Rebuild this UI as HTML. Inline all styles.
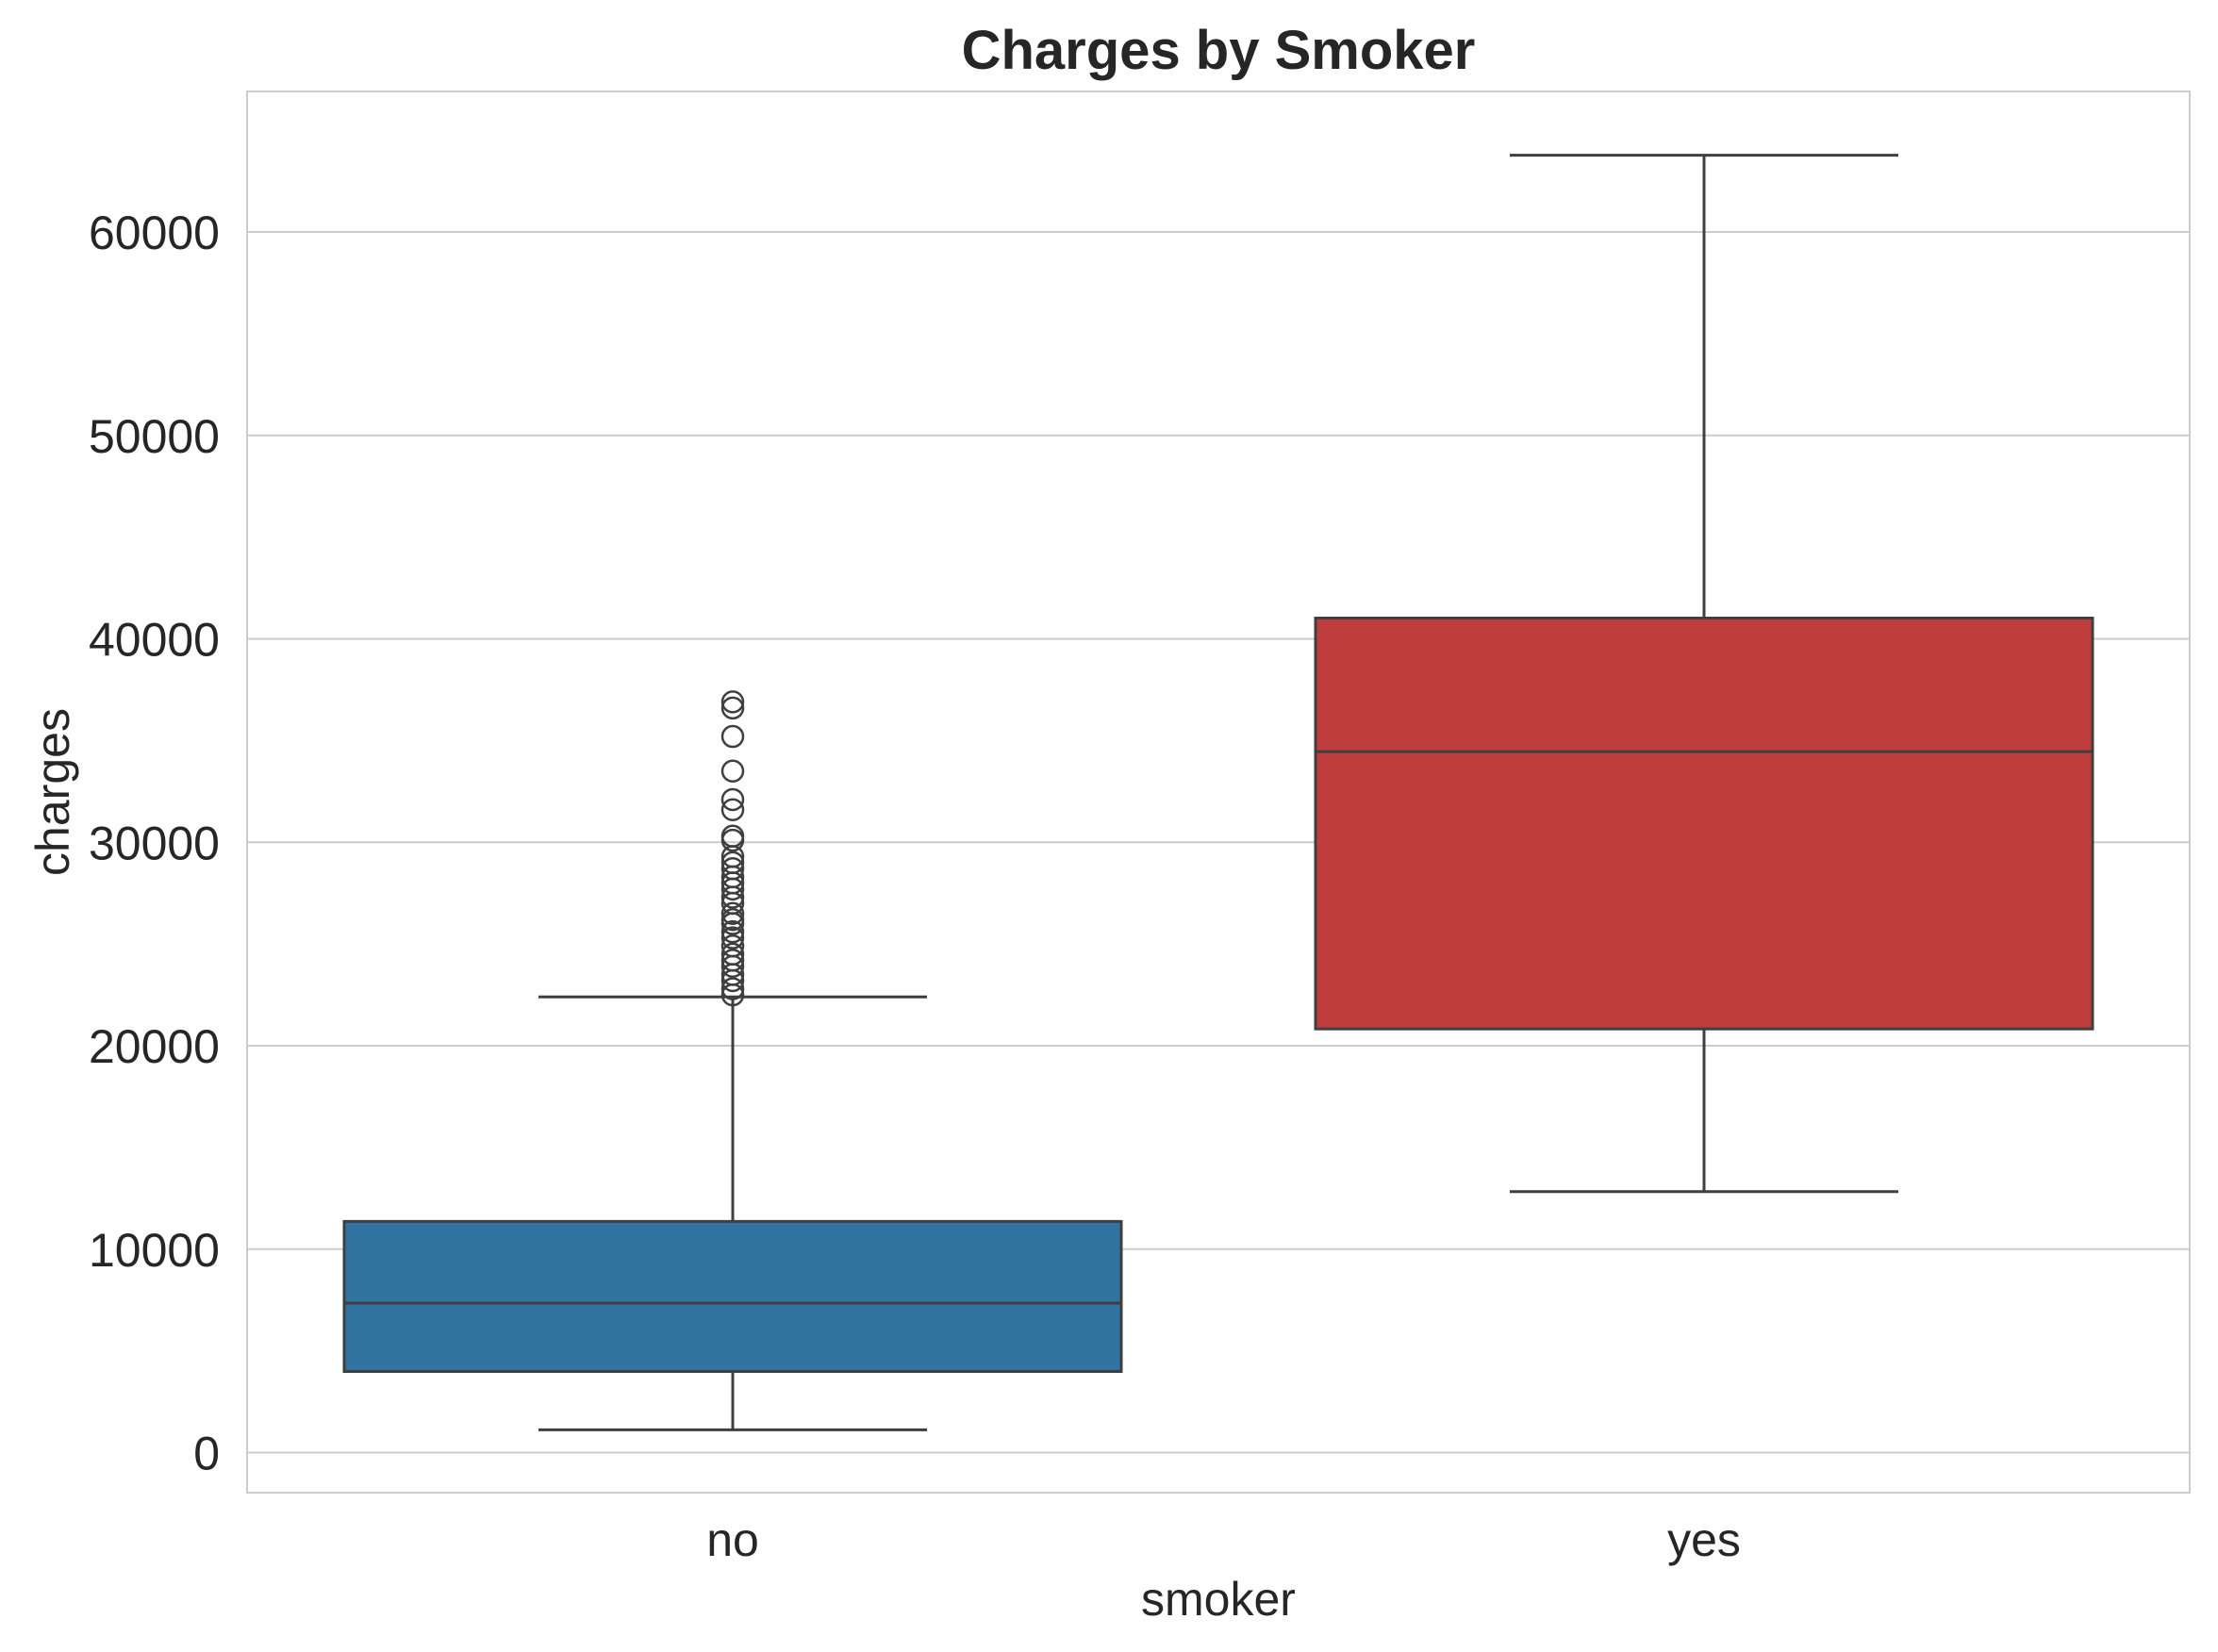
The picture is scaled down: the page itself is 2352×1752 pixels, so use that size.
<!DOCTYPE html>
<html><head><meta charset="utf-8"><style>
html,body{margin:0;padding:0;background:#fff}
svg{display:block;font-family:"Liberation Sans",Arial,sans-serif}
</style></head><body>
<svg id="chart" width="2352" height="1752" viewBox="0 0 2352 1752" xmlns="http://www.w3.org/2000/svg">
<rect width="2352" height="1752" fill="#fff"/>
<g id="grid"></g>
<rect x="262" y="97" width="2060" height="1486" fill="none" stroke="#cccccc" stroke-width="2"/>
<g id="boxes"></g>
<g id="yticks"></g>
<g id="xticks"></g>
<text x="1292" y="73" text-anchor="middle" font-size="58" font-weight="bold" fill="#262626">Charges by Smoker</text>
<text x="1292" y="1713" text-anchor="middle" font-size="50" fill="#262626">smoker</text>
<text transform="translate(73,840) rotate(-90)" text-anchor="middle" font-size="50" fill="#262626">charges</text>
</svg>
<script>
const categories = ["no","yes"];
const q1 = [3986, 20826];
const median = [7345, 34456];
const q3 = [11362, 41019];
const whiskerLow = [1121, 12829];
const whiskerHigh = [22400, 63770];
const outliersNo = [22500,22800,23200,23500,23900,24200,24500,24900,25300,25600,26000,26200,26500,27000,27300,27700,28000,28300,28700,29000,29300,30100,30300,31600,32100,33500,35200,36600,36900];
const outliers = [outliersNo, []];
const colors = ["#3274a1","#c03d3e"];
const yTicks = [0,10000,20000,30000,40000,50000,60000];

const NS="http://www.w3.org/2000/svg";
const plotLeft=262,plotRight=2322,plotTop=97,plotBottom=1583;
const y0px=1540.5, perUnit=215.75/10000;
const yS=v=>y0px - v*perUnit;
const band=(plotRight-plotLeft)/categories.length;
const xS=i=>plotLeft+band*(i+0.5);
const boxW=band*0.8;
function mk(tag,attrs,parent){const e=document.createElementNS(NS,tag);for(const k in attrs)e.setAttribute(k,attrs[k]);parent.appendChild(e);return e;}
const grid=document.getElementById('grid'),yt=document.getElementById('yticks'),xt=document.getElementById('xticks'),bx=document.getElementById('boxes');
yTicks.forEach(t=>{
  const l=mk('line',{x1:plotLeft,x2:plotRight,y1:yS(t),y2:yS(t),stroke:'#cccccc','stroke-width':2},grid);
  
  
  const tx=mk('text',{x:233,y:yS(t)+18,'text-anchor':'end','font-size':50,fill:'#262626'},yt);
  tx.textContent=t;
  
  
});
categories.forEach((c,i)=>{
  const cx=xS(i);
  const tx=mk('text',{x:cx,y:1650,'text-anchor':'middle','font-size':50,fill:'#262626'},xt);
  tx.textContent=c;
  
  
  const g=mk('g',{},bx);
  
  
  const st={stroke:'#3f3f3f','stroke-width':3};
  mk('line',Object.assign({x1:cx,x2:cx,y1:yS(q1[i]),y2:yS(whiskerLow[i])},st),g);
  mk('line',Object.assign({x1:cx,x2:cx,y1:yS(q3[i]),y2:yS(whiskerHigh[i])},st),g);
  mk('line',Object.assign({x1:cx-boxW/4,x2:cx+boxW/4,y1:yS(whiskerLow[i]),y2:yS(whiskerLow[i])},st),g);
  mk('line',Object.assign({x1:cx-boxW/4,x2:cx+boxW/4,y1:yS(whiskerHigh[i]),y2:yS(whiskerHigh[i])},st),g);
  const r=mk('rect',Object.assign({x:cx-boxW/2,y:yS(q3[i]),width:boxW,height:yS(q1[i])-yS(q3[i]),fill:colors[i]},st),g);
  
  
  const m=mk('line',Object.assign({x1:cx-boxW/2,x2:cx+boxW/2,y1:yS(median[i]),y2:yS(median[i])},st),g);
  
  
  outliers[i].forEach(v=>{
    const p=mk('circle',{cx:cx,cy:yS(v),r:11,fill:'none',stroke:'#3f3f3f','stroke-width':2.5},g);
    
    
  });
});
</script>
</body></html>
